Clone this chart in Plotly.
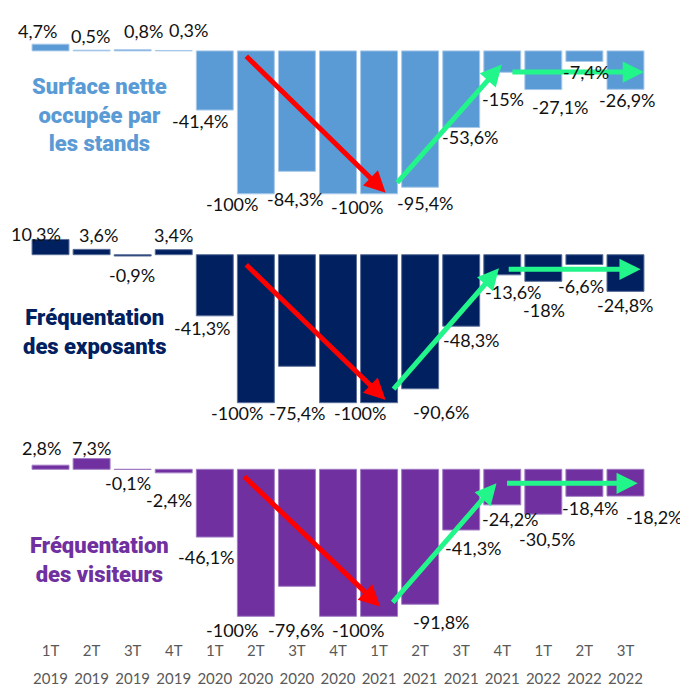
import plotly.graph_objects as go

# ---------------- data ----------------
quarters = ["1T", "2T", "3T", "4T", "1T", "2T", "3T", "4T", "1T", "2T", "3T", "4T", "1T", "2T", "3T"]
years = ["2019", "2019", "2019", "2019", "2020", "2020", "2020", "2020",
         "2021", "2021", "2021", "2021", "2022", "2022", "2022"]
surface = [4.7, 0.5, 0.8, 0.3, -41.4, -100, -84.3, -100, -100, -95.4, -53.6, -15, -27.1, -7.4, -26.9]
exposants = [10.3, 3.6, -0.9, 3.4, -41.3, -100, -75.4, -100, -100, -90.6, -48.3, -13.6, -18, -6.6, -24.8]
visiteurs = [2.8, 7.3, -0.1, -2.4, -46.1, -100, -79.6, -100, -100, -91.8, -41.3, -24.2, -30.5, -18.4, -18.2]
panel_titles = ["Surface nette<br>occupée par<br>les stands",
                "Fréquentation<br>des exposants",
                "Fréquentation<br>des visiteurs"]

# ---------------- styling / layout ----------------
OFF = 8                     # page body margin of the html page
W, H = 688 - OFF, 686 - OFF
colors = ["#5B9BD5", "#002060", "#7030A0"]
edge = ["#A9C9EA", "#5C6F99", "#A27CC4"]
RED = "#FF0000"
GREEN = "#22F58A"

# label nudges in pixels (dx right, dy down); None = label hidden (overlaps its neighbour)
nudges = [
    [(-13, -13), (-1, -14), (11, -19), (15, -20), (-14, 11), (-24, 10), (-1, 28), (19, 13), None,
     (5, 16), (9, 10), (1, 27), (17, 17), (2, 11), (2, 11)],
    [(-15, -5), (7, -14), (-1, 19), (0, -15), (-12, 12), (-19, 10), (1, 47), (22, 10), None,
     (21, 23), (10, 14), (11, 17), (1, 29), (-3, 22), (0, 14)],
    [(-9, -17), (0, -11), (-5, 14), (-5, 27), (-8, 20), (-24, 14), (0, 44), (20, 14), None,
     (21, 18), (12, 18), (8, 14), (4, 25), (6, 12), (29, 21)],
]

# decorative trend arrows (tail x, tail y, head x, head y) in each panel's data space
arrows = [
    [(RED, 4.73, -2.7, 8.16, -99.3), (GREEN, 8.41, -93.2, 10.99, -9.5), (GREEN, 11.21, -14.8, 14.45, -14.8)],
    [(RED, 4.73, -5.8, 8.16, -98.2), (GREEN, 8.32, -91.9, 10.92, -9.2), (GREEN, 11.12, -9.9, 14.37, -9.9)],
    [(RED, 4.68, -3.9, 8.03, -93.5), (GREEN, 8.30, -91.6, 10.86, -9.5), (GREEN, 11.08, -9.5, 14.30, -9.5)],
]
title_pos = [(1.19, -44.9), (1.08, -52.2), (1.19, -61.7)]

# vertical placement: (zero-line pixel in window, range low, range high, px per unit)
panels = [(46.0, -120, 30, 1.47), (254.7, -120, 20, 1.48), (469.3, -116, 20, 1.47)]


def domain(zero_px, lo, hi, s):
    z = zero_px - OFF
    top = z - hi * s
    bot = z - lo * s
    return [max(0, 1 - bot / H), min(1, 1 - top / H)]


def fmt(v):
    return f"{v:g}".replace(".", ",") + "%"


idx = list(range(len(quarters)))
series = [surface, exposants, visiteurs]

fig = go.Figure()
arrow_anns, label_anns, title_anns = [], [], []
for k, vals in enumerate(series):
    xa = "x" if k == 0 else f"x{k+1}"
    ya = "y" if k == 0 else f"y{k+1}"
    fig.add_trace(go.Bar(
        x=idx, y=vals, xaxis=xa, yaxis=ya,
        marker=dict(color=colors[k], line=dict(color=edge[k], width=1)),
        hoverinfo="skip", showlegend=False,
    ))
    for col, tx, ty, hx, hy in arrows[k]:
        arrow_anns.append(dict(
            x=hx, y=hy, ax=tx, ay=ty, xref=xa, yref=ya, axref=xa, ayref=ya,
            text="", showarrow=True, arrowhead=2, arrowsize=0.85, arrowwidth=5,
            arrowcolor=col, standoff=0, startstandoff=0,
        ))
    for i, v in enumerate(vals):
        n = nudges[k][i]
        if n is None:
            continue
        label_anns.append(dict(
            x=i, y=v, xref=xa, yref=ya, text=fmt(v), showarrow=False,
            xanchor="center", yanchor="middle", xshift=n[0], yshift=-n[1],
            font=dict(family="Lato", size=18, color="#111111"),
        ))
    tx, ty = title_pos[k]
    title_anns.append(dict(
        x=tx, y=ty, xref=xa, yref=ya, text=panel_titles[k], showarrow=False,
        xanchor="center", yanchor="middle", align="center",
        font=dict(family="Roboto", size=22, color=colors[k], weight=900),
    ))

# dummy trace so the year axis is drawn
fig.add_trace(go.Scatter(x=idx, y=[None] * len(idx), xaxis="x4", yaxis="y3",
                         mode="markers", hoverinfo="skip", showlegend=False))

xcommon = dict(range=[-0.5, 14.5], showgrid=False, zeroline=False, showline=False, ticks="",
               tickvals=idx, automargin=False)
tickfont = dict(family="Lato", size=15, color="#595959")
layout = dict(
    width=W, height=H, margin=dict(l=30 - OFF, r=42, t=0, b=0),
    paper_bgcolor="white", plot_bgcolor="white", bargap=0.1,
    annotations=arrow_anns + label_anns + title_anns,
    xaxis=dict(**xcommon, anchor="y", showticklabels=False),
    xaxis2=dict(**xcommon, anchor="y2", showticklabels=False),
    xaxis3=dict(**xcommon, anchor="y3", ticktext=quarters, tickfont=tickfont),
    xaxis4=dict(**xcommon, overlaying="x3", anchor="free", position=1 - (668 - OFF) / H,
                side="bottom", ticktext=years, tickfont=tickfont),
)
for k, (z, lo, hi, s) in enumerate(panels):
    key = "yaxis" if k == 0 else f"yaxis{k+1}"
    layout[key] = dict(range=[lo, hi], domain=domain(z, lo, hi, s), visible=False,
                       showgrid=False, zeroline=False, automargin=False,
                       anchor="x" if k == 0 else f"x{k+1}")
fig.update_layout(**layout)
fig.write_html("out.html")
